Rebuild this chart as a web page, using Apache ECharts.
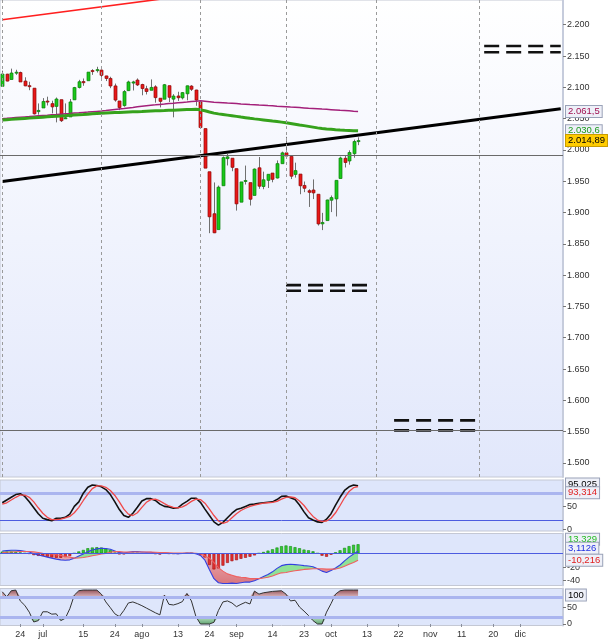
<!DOCTYPE html>
<html><head><meta charset="utf-8">
<script src="https://cdn.jsdelivr.net/npm/echarts@6/dist/echarts.min.js"></script>
<style>html,body{margin:0;padding:0;background:#fff}#c{width:608px;height:640px}</style>
</head><body><div id="c"></div>
<script>
// ---------- categories (trading days 2015) ----------
const dates = ['06-18','06-19','06-22','06-23','06-24','06-25','06-26','06-29','06-30',
'07-01','07-02','07-06','07-07','07-08','07-09','07-10','07-13','07-14','07-15','07-16','07-17','07-20','07-21','07-22','07-23','07-24','07-27','07-28','07-29','07-30','07-31',
'08-03','08-04','08-05','08-06','08-07','08-10','08-11','08-12','08-13','08-14','08-17','08-18','08-19','08-20','08-21','08-24','08-25','08-26','08-27','08-28','08-31',
'09-01','09-02','09-03','09-04','09-08','09-09','09-10','09-11','09-14','09-15','09-16','09-17','09-18','09-21','09-22','09-23','09-24','09-25','09-28','09-29','09-30',
'10-01','10-02','10-05','10-06','10-07','10-08','10-09','10-12','10-13','10-14','10-15','10-16','10-19','10-20','10-21','10-22','10-23','10-26','10-27','10-28','10-29','10-30',
'11-02','11-03','11-04','11-05','11-06','11-09','11-10','11-11','11-12','11-13','11-16','11-17','11-18','11-19','11-20','11-23','11-24','11-25','11-27','11-30',
'12-01','12-02','12-03','12-04','12-07','12-08','12-09','12-10','12-11','12-14'];
const tickLabels = {'06-24':'24','07-01':'jul','07-15':'15','07-24':'24','08-03':'ago','08-13':'13','08-24':'24','09-01':'sep','09-14':'14','09-23':'23','10-01':'oct','10-13':'13','10-22':'22','11-02':'nov','11-11':'11','11-20':'20','12-01':'dic'};
const gridDates = ['06-18','07-21','08-20','09-17','10-15','11-17'];
const priceTicks = [1500,1550,1600,1650,1700,1750,1800,1850,1900,1950,2000,2050,2100,2150,2200];

// ---------- price data ----------
const opens = [2101.58,2121.06,2112.50,2123.16,2123.65,2109.96,2102.62,2098.63,2061.19,2067.00,
2078.03,2073.95,2069.52,2080.27,2049.73,2052.74,2080.03,2099.72,2109.22,2110.55,
2126.80,2126.85,2127.55,2118.21,2114.16,2102.24,2078.19,2070.75,2094.70,2106.78,
2111.60,2104.49,2097.68,2095.27,2100.75,2082.61,2080.98,2102.66,2081.10,2086.19,
2083.15,2089.70,2101.99,2095.69,2076.61,2034.08,1965.15,1898.08,1872.75,1942.77,
1986.06,1986.73,1970.09,1916.52,1950.79,1947.76,1927.30,1971.45,1941.59,1951.45,
1963.06,1955.10,1978.02,1995.33,1989.66,1960.84,1961.39,1943.24,1934.81,1935.93,
1929.18,1881.90,1887.14,1919.65,1921.77,1954.33,1986.63,1982.34,1994.01,2013.73];
const highs = [2126.65,2121.64,2129.87,2128.03,2125.10,2116.04,2108.92,2098.63,2074.28,2082.78,
2085.06,2078.61,2083.74,2080.27,2074.28,2081.31,2100.67,2111.98,2114.14,2124.42,
2128.91,2132.82,2128.48,2118.51,2116.87,2106.01,2078.19,2095.60,2110.60,2110.48,
2114.24,2105.70,2102.51,2112.66,2103.32,2082.61,2105.35,2102.66,2089.06,2092.93,
2092.45,2102.87,2103.47,2096.17,2076.61,2034.08,1965.15,1948.04,1943.09,1989.60,
1993.48,1986.73,1970.09,1948.91,1975.01,1947.76,1970.42,1988.63,1965.29,1961.05,
1963.06,1983.19,1997.26,2020.86,1989.66,1979.64,1961.39,1949.52,1937.17,1952.89,
1929.18,1899.48,1920.53,1927.21,1951.36,1989.17,1991.62,1999.31,2016.50,2020.13];
const lows = [2101.58,2109.45,2112.50,2119.89,2108.58,2101.78,2095.38,2056.64,2056.32,2067.00,
2071.02,2058.40,2044.02,2044.62,2049.73,2052.74,2080.03,2098.18,2102.49,2110.55,
2119.88,2123.66,2115.40,2110.00,2098.63,2077.09,2063.52,2069.09,2094.08,2094.97,
2102.07,2087.31,2088.60,2095.27,2075.53,2067.91,2080.98,2076.49,2052.09,2078.26,
2080.61,2079.30,2094.14,2070.53,2035.73,1970.89,1867.01,1867.08,1872.75,1942.77,
1975.19,1965.98,1903.07,1916.52,1944.72,1911.21,1927.30,1937.88,1937.19,1939.19,
1948.27,1954.30,1977.93,1986.73,1953.45,1955.80,1929.22,1932.57,1908.92,1921.50,
1879.21,1871.91,1887.14,1900.70,1893.70,1954.33,1971.99,1976.44,1987.53,2007.61];
const closes = [2121.24,2109.99,2122.85,2124.20,2108.58,2102.31,2101.49,2057.64,2063.11,2077.42,
2076.78,2068.76,2081.34,2046.68,2051.31,2076.62,2099.60,2108.95,2107.40,2124.29,
2126.64,2128.28,2119.21,2114.15,2102.15,2079.65,2067.64,2093.25,2108.57,2108.63,
2103.84,2098.04,2093.32,2099.84,2083.56,2077.57,2104.18,2084.07,2086.05,2083.39,
2091.54,2102.44,2096.92,2079.61,2035.73,1970.89,1893.21,1867.61,1940.51,1987.66,
1988.87,1972.18,1913.85,1948.86,1951.13,1921.22,1969.41,1942.04,1952.29,1961.05,
1953.03,1978.09,1995.31,1990.20,1958.03,1966.97,1942.74,1938.76,1932.24,1931.34,
1881.77,1884.09,1920.03,1923.82,1951.36,1987.05,1979.92,1995.83,2013.43,2014.89];

// ---------- moving averages ----------
const maPurple = [2050.0,2050.5,2051.1,2051.7,2052.2,2052.7,2053.2,2053.8,2054.4,2054.9,
2055.4,2056.0,2056.5,2057.1,2057.7,2058.2,2058.8,2059.3,2059.9,2060.4,
2061.0,2061.5,2062.0,2062.8,2063.7,2064.6,2065.4,2066.2,2067.1,2067.9,
2068.8,2069.7,2070.6,2071.4,2072.0,2072.7,2073.3,2074.0,2074.6,2075.3,
2075.9,2076.5,2077.2,2077.8,2078.4,2077.9,2077.1,2076.3,2075.8,2075.3,
2074.8,2074.4,2074.0,2073.5,2073.1,2072.6,2072.2,2071.7,2071.3,2070.8,
2070.4,2069.9,2069.5,2069.0,2068.5,2068.1,2067.6,2067.1,2066.6,2066.2,
2065.7,2065.2,2064.8,2064.3,2063.8,2063.3,2062.9,2062.4,2061.9,2061.5];
const maGreen = [2047.8,2048.3,2048.8,2049.3,2049.8,2050.3,2050.8,2051.3,2051.8,2052.3,
2052.8,2053.3,2053.8,2054.2,2054.7,2055.2,2055.7,2056.2,2056.6,2057.1,
2057.6,2058.1,2058.6,2059.0,2059.3,2059.6,2059.9,2060.2,2060.5,2060.8,
2061.1,2061.4,2061.8,2062.1,2062.4,2062.7,2062.9,2063.2,2063.5,2063.8,
2064.1,2064.4,2064.7,2064.9,2064.0,2062.5,2060.6,2058.8,2057.6,2056.6,
2055.6,2054.6,2053.6,2052.5,2051.5,2050.5,2049.6,2048.8,2047.9,2047.0,
2046.1,2045.3,2044.4,2043.5,2042.3,2041.1,2039.9,2038.8,2037.6,2036.4,
2035.2,2034.2,2033.5,2032.9,2032.3,2031.8,2031.4,2031.1,2030.8,2030.6];

// ---------- drawn annotations ----------
const trendLine = [['06-18',1949.7],['12-14',2065.9]];
const channelLine = [['06-18',2208.0],['12-14',2324.2]];
const hLevels = [1991, 1552];
const targets = [
  {from:'09-17', to:'10-13', levels:[1784,1775]},
  {from:'10-21', to:'11-16', levels:[1568,1552]},
  {from:'11-18', to:'12-14', levels:[2166,2156]}
];

// ---------- stochastic ----------
const stochK = [58,64,70,76,78,72,60,47,34,24, 21,18.5,24,24,26,33,50,60,79,92,
97,96,93,87,76,60,43,30,26,35, 48,62,67,67,63,55,50,49,46,47,
55,61,68,68,59,44,30,16,9,15, 25,35,43,46,50,54,55,57,58,59,
60,65,72,73,69,65,53,38,25,20, 16,15,22,34,53,70,85,93,97,95.025];
const stochD = [55,58,64,70,75,75,70,60,47,35, 26,21,21,22,25,28,36,48,63,77,
89,95,95,92,85,74,60,44,33,30, 36,48,59,65,66,62,56,51,48,47,
49,54,61,66,65,57,44,30,18,13, 16,25,34,41,46,50,53,55,57,58,
59,61,66,70,71,69,62,52,39,28, 20,17,18,24,36,52,69,83,91,93.314];

// ---------- MACD ----------
const macdLine = [3.5,4,4.5,4.5,4,3,2,-0.5,-2.5,-4, -5.5,-7,-8.5,-9.5,-10,-9.5,-7,-4,-1,2.5,
5,6.5,7.5,7,6,3.5,1,0.5,1.5,2.5, 2.5,2,1.5,1.5,0.5,-0.5,0.5,0,-0.3,-0.5,
-0.2,0.3,0.5,-0.5,-3,-10,-24,-37,-43,-44, -44,-43.5,-44,-43,-42,-42,-40,-37,-34,-31,
-27,-22,-18,-16.5,-16,-16.5,-17,-18,-18.5,-19.5, -22.5,-26,-28,-25,-21.5,-17,-11,-5.5,-1,3.1126];
const signalLine = [1,1.5,2,2.4,2.7,2.8,2.7,2.1,1.2,0, -0.5,-1,-2,-3,-4.5,-5.5,-7,-6.8,-6,-5,
-3.5,-2.5,-1,0,1.5,2.5,2.5,2,1.8,1.9, 2,2,1.9,1.8,1.6,1.2,1,0.8,0.6,0.4,
0.3,0.3,0.3,0.1,-0.5,-4,-7,-13.5,-21,-26, -30,-32,-34,-35,-35.5,-37,-37,-37,-36,-35,
-33,-30.5,-28.5,-28,-26.5,-25.5,-24.5,-23.5,-23,-22.5, -22.5,-22.5,-23,-23,-23,-21.5,-19,-16,-13.5,-10.216];
const macdHist = [2.5,2.5,2.5,2.1,1.3,0.2,-0.7,-2.6,-3.7,-4, -5,-6,-6.5,-6.5,-5.5,-4,0,2.8,5,7.5,
8.5,9,8.5,7,4.5,1,-1.5,-1.5,-0.3,0.6, 0.5,0,-0.4,-0.3,-1.1,-1.7,-0.5,-0.8,-0.9,-0.9,
-0.5,0,0.2,-0.6,-2.5,-6,-17,-23.5,-22,-18, -14,-11.5,-10,-8,-6.5,-5,-3,0,2,4,
6,8.5,10.5,11.5,10.5,9,7.5,5.5,4.5,3, 0,-3.5,-5,-2,1.5,4.5,8,10.5,12.5,13.329];

// ---------- bottom oscillator ----------
const osc = [95,80,98,100,68,55,35,6,10,36, 36,29,30,10,17,45,85,98,100,100,
100,100,88,65,48,30,22,40,62,65, 60,54,47,40,33,27,85,58,56,60,
66,90,68,22,0,0,0,5,40,65, 68,62,51,58,64,59,97,88,92,94,
96,97,98,88,68,70,50,38,25,10, 0,0,35,60,88,98,100,100,100,100];

// ================= rendering =================
const FONT = '"Liberation Sans", Arial, sans-serif';
const N = closes.length;
function fmtEs(v, dec) {
  const neg = v < 0;
  const parts = Math.abs(v).toFixed(dec).split('.');
  const ip = parts[0].replace(/\B(?=(\d{3})+(?!\d))/g, '.');
  return (neg ? '-' : '') + ip + (parts[1] ? ',' + parts[1] : '');
}
const last = a => a[a.length - 1];

const chart = echarts.init(document.getElementById('c'), null, {renderer: 'canvas'});

const PLOT_W = 563;
const grids = [
  {left: 0, top: 0, width: PLOT_W, height: 477},
  {left: 0, top: 480, width: PLOT_W, height: 51},
  {left: 0, top: 533.5, width: PLOT_W, height: 52},
  {left: 0, top: 588.5, width: PLOT_W, height: 37}
];
const mainBg = new echarts.graphic.LinearGradient(0, 0, 0, 1, [{offset: 0, color: '#ffffff'}, {offset: 1, color: '#e1e7fb'}]);
const subBg = '#dee6fb';
grids.forEach((g, i) => {
  g.show = true; g.borderColor = '#c4c8d4'; g.borderWidth = 1;
  g.backgroundColor = i === 0 ? mainBg : subBg;
});

const labelFn = (idx, v) => tickLabels[v] !== undefined;
const xAxes = grids.map((g, i) => ({
  gridIndex: i, type: 'category', data: dates, boundaryGap: true,
  axisLine: {show: false},
  axisTick: i === 3 ? {show: true, interval: labelFn, alignWithLabel: true, length: 3, lineStyle: {color: '#8a8f9c'}} : {show: false},
  axisLabel: i === 3 ? {show: true, interval: labelFn, formatter: v => tickLabels[v] || '', fontSize: 9, fontFamily: FONT, color: '#333', margin: 5} : {show: false},
  splitLine: {show: false}
}));

function yAx(i, min, max, ticks, fmt) {
  return {
    gridIndex: i, type: 'value', position: 'right', min, max,
    splitLine: {show: false},
    axisLine: {show: true, lineStyle: {color: '#c6ccdc', width: 2}},
    axisTick: {show: true, length: 3, customValues: ticks, lineStyle: {color: '#777'}},
    axisLabel: {show: true, customValues: ticks, formatter: fmt, fontSize: 9, fontFamily: FONT, color: '#333', margin: 4}
  };
}
const yAxes = [
  yAx(0, 1477.5, 2239.5, priceTicks, v => fmtEs(v, 0)),
  yAx(1, -4, 108, [0, 50], v => String(v)),
  yAx(2, -47, 29, [-40, -20], v => String(v)),
  yAx(3, -4.4, 104.6, [0, 50], v => String(v))
];

const candleData = closes.map((c, i) => [i, opens[i], c, lows[i], highs[i]]);
function renderCandle(params, api) {
  const i = api.value(0), o = api.value(1), c = api.value(2), l = api.value(3), h = api.value(4);
  const po = api.coord([i, o]), pc = api.coord([i, c]), pl = api.coord([i, l]), ph = api.coord([i, h]);
  const x = Math.round(po[0]) + 0.5;
  const up = c >= o;
  const top = Math.min(po[1], pc[1]);
  const hgt = Math.max(Math.abs(po[1] - pc[1]), 1);
  return {type: 'group', children: [
    {type: 'line', shape: {x1: x, y1: ph[1], x2: x, y2: pl[1]}, style: {stroke: '#707070', lineWidth: 1}},
    {type: 'rect', shape: {x: x - 1.5, y: top, width: 3, height: hgt},
      style: {fill: up ? '#19c819' : '#e81717', stroke: up ? '#0b7f0b' : '#8c0a0a', lineWidth: 0.7}}
  ]};
}

const noSym = {showSymbol: false, symbol: 'none', animation: false};
const series = [];

// guides: vertical dashed lines + horizontal levels
series.push(Object.assign({
  type: 'line', xAxisIndex: 0, yAxisIndex: 0, z: 1, data: closes,
  lineStyle: {opacity: 0, width: 0}, silent: true,
  markLine: {silent: true, symbol: ['none', 'none'], label: {show: false}, animation: false,
    data: gridDates.map(d => ({xAxis: d, lineStyle: {color: '#9a9a9a', type: [3, 3], width: 1}}))
      .concat(hLevels.map(v => ({yAxis: v, lineStyle: {color: '#6a6a6a', type: 'solid', width: 1}})))}
}, noSym));

series.push({type: 'custom', xAxisIndex: 0, yAxisIndex: 0, z: 2, renderItem: renderCandle, data: candleData,
  encode: {x: 0, y: [1, 2, 3, 4]}, clip: true, animation: false});

series.push(Object.assign({type: 'line', xAxisIndex: 0, yAxisIndex: 0, z: 3, data: maPurple,
  lineStyle: {color: '#a3207a', width: 1.5}}, noSym));
series.push(Object.assign({type: 'line', xAxisIndex: 0, yAxisIndex: 0, z: 3, data: maGreen,
  lineStyle: {color: '#36a21c', width: 3}}, noSym));

series.push(Object.assign({type: 'line', xAxisIndex: 0, yAxisIndex: 0, z: 4, data: trendLine, clip: true,
  lineStyle: {color: '#000', width: 3}}, noSym));
series.push(Object.assign({type: 'line', xAxisIndex: 0, yAxisIndex: 0, z: 4, data: channelLine, clip: true,
  lineStyle: {color: '#ff1f1f', width: 1.6}}, noSym));

targets.forEach(t => t.levels.forEach(v => {
  series.push(Object.assign({type: 'line', xAxisIndex: 0, yAxisIndex: 0, z: 4, clip: true,
    data: [[t.from, v], [t.to, v]],
    lineStyle: {color: '#111', width: 2.6, type: [15, 7], cap: 'butt'}}, noSym));
}));

// stochastic
series.push(Object.assign({type: 'line', xAxisIndex: 1, yAxisIndex: 1, z: 3, data: stochK,
  lineStyle: {color: '#111', width: 1.6},
  markLine: {silent: true, symbol: ['none', 'none'], label: {show: false}, animation: false, z: 1,
    data: [{yAxis: 80, lineStyle: {color: '#aab5ef', width: 3, type: 'solid'}},
           {yAxis: 20, lineStyle: {color: '#4c5ce0', width: 1, type: 'solid'}}]}}, noSym));
series.push(Object.assign({type: 'line', xAxisIndex: 1, yAxisIndex: 1, z: 4, data: stochD,
  lineStyle: {color: '#f04848', width: 1.3}}, noSym));

// MACD fills
const macdBase = macdLine.map((m, i) => Math.min(m, signalLine[i]));
const macdUp = macdLine.map((m, i) => Math.max(m - signalLine[i], 0));
const macdDn = macdLine.map((m, i) => Math.max(signalLine[i] - m, 0));
series.push(Object.assign({type: 'line', xAxisIndex: 2, yAxisIndex: 2, z: 2, data: macdBase, stack: 'macd', stackStrategy: 'all',
  lineStyle: {opacity: 0}}, noSym));
series.push(Object.assign({type: 'line', xAxisIndex: 2, yAxisIndex: 2, z: 2, data: macdUp, stack: 'macd', stackStrategy: 'all',
  lineStyle: {opacity: 0}, areaStyle: {color: '#86e08c', opacity: 0.9}}, noSym));
series.push(Object.assign({type: 'line', xAxisIndex: 2, yAxisIndex: 2, z: 2, data: macdDn, stack: 'macd', stackStrategy: 'all',
  lineStyle: {opacity: 0}, areaStyle: {color: new echarts.graphic.LinearGradient(0, 0, 0, 1, [{offset: 0, color: '#f0a0a0'}, {offset: 1, color: '#d84848'}])}}, noSym));
series.push({type: 'bar', xAxisIndex: 2, yAxisIndex: 2, z: 3, barWidth: 3, animation: false,
  data: macdHist.map(v => ({value: v, itemStyle: {color: v >= 0 ? '#33cc33' : '#e53030', borderColor: v >= 0 ? '#128a12' : '#a01010', borderWidth: 0.6}}))});
series.push(Object.assign({type: 'line', xAxisIndex: 2, yAxisIndex: 2, z: 4, data: macdLine,
  lineStyle: {color: '#3340e0', width: 1.1},
  markLine: {silent: true, symbol: ['none', 'none'], label: {show: false}, animation: false,
    data: [{yAxis: 0, lineStyle: {color: '#4c5ce0', width: 1, type: 'solid'}}]}}, noSym));
series.push(Object.assign({type: 'line', xAxisIndex: 2, yAxisIndex: 2, z: 4, data: signalLine,
  lineStyle: {color: '#f06060', width: 1.1}}, noSym));

// oscillator with zone fills
const hiBase = osc.map(() => 80), hiBand = osc.map(v => Math.max(v - 80, 0));
const loBase = osc.map(v => Math.min(v, 20)), loBand = osc.map(v => 20 - Math.min(v, 20));
series.push(Object.assign({type: 'line', xAxisIndex: 3, yAxisIndex: 3, z: 2, data: hiBase, stack: 'hi', lineStyle: {opacity: 0}}, noSym));
series.push(Object.assign({type: 'line', xAxisIndex: 3, yAxisIndex: 3, z: 2, data: hiBand, stack: 'hi', lineStyle: {opacity: 0},
  areaStyle: {color: new echarts.graphic.LinearGradient(0, 0, 0, 1, [{offset: 0, color: '#7a1818'}, {offset: 1, color: '#d9a2a2'}])}}, noSym));
series.push(Object.assign({type: 'line', xAxisIndex: 3, yAxisIndex: 3, z: 2, data: loBase, stack: 'lo', lineStyle: {opacity: 0}}, noSym));
series.push(Object.assign({type: 'line', xAxisIndex: 3, yAxisIndex: 3, z: 2, data: loBand, stack: 'lo', lineStyle: {opacity: 0},
  areaStyle: {color: new echarts.graphic.LinearGradient(0, 0, 0, 1, [{offset: 0, color: '#a6dca6'}, {offset: 1, color: '#2f8a3a'}])}}, noSym));
series.push(Object.assign({type: 'line', xAxisIndex: 3, yAxisIndex: 3, z: 3, data: osc,
  lineStyle: {color: '#333', width: 1},
  markLine: {silent: true, symbol: ['none', 'none'], label: {show: false}, animation: false,
    data: [{yAxis: 80, lineStyle: {color: '#aab5ef', width: 3, type: 'solid'}},
           {yAxis: 20, lineStyle: {color: '#aab5ef', width: 3, type: 'solid'}}]}}, noSym));

chart.setOption({
  animation: false,
  backgroundColor: '#ffffff',
  textStyle: {fontFamily: FONT},
  grid: grids, xAxis: xAxes, yAxis: yAxes, series
});

// value tags at the right axis, placed through the axis scales
const tags = [
  {axis: 0, value: last(maPurple), text: fmtEs(last(maPurple), 1), color: '#a01050', bg: '#eef0f8', border: '#9aa2b8', dy: 0},
  {axis: 0, value: last(maGreen), text: fmtEs(last(maGreen), 1), color: '#1a9a1a', bg: '#eef0f8', border: '#9aa2b8', dy: 0},
  {axis: 0, value: last(closes), text: fmtEs(last(closes), 2), color: '#000', bg: '#ffcc00', border: '#c99c00', dy: 0},
  {axis: 1, value: last(stochK), text: fmtEs(last(stochK), 3), color: '#000', bg: '#eef0f8', border: '#9aa2b8', dy: -2},
  {axis: 1, value: last(stochD), text: fmtEs(last(stochD), 3), color: '#e02020', bg: '#eef0f8', border: '#9aa2b8', dy: 6},
  {axis: 2, value: last(macdHist), text: fmtEs(last(macdHist), 3), color: '#22bb22', bg: '#eef0f8', border: '#9aa2b8', dy: -5},
  {axis: 2, value: last(macdLine), text: fmtEs(last(macdLine), 4), color: '#2030e0', bg: '#eef0f8', border: '#9aa2b8', dy: -3},
  {axis: 2, value: last(signalLine), text: fmtEs(last(signalLine), 3), color: '#e02020', bg: '#eef0f8', border: '#9aa2b8', dy: 0},
  {axis: 3, value: last(osc), text: fmtEs(last(osc), 0), color: '#000', bg: '#eef0f8', border: '#9aa2b8', dy: 5}
];
const graphics = tags.map((t, k) => {
  const y = chart.convertToPixel({yAxisIndex: t.axis}, t.value) + t.dy;
  return {type: 'text', x: PLOT_W + 3, y: y, z: 100 + k, silent: true,
    style: {text: t.text, fill: t.color, font: '9.5px ' + FONT, verticalAlign: 'middle', align: 'left',
      backgroundColor: t.bg, borderColor: t.border, borderWidth: 1, padding: [1, 2, 0, 2]}};
});
chart.setOption({graphic: graphics});
</script>
</body></html>
